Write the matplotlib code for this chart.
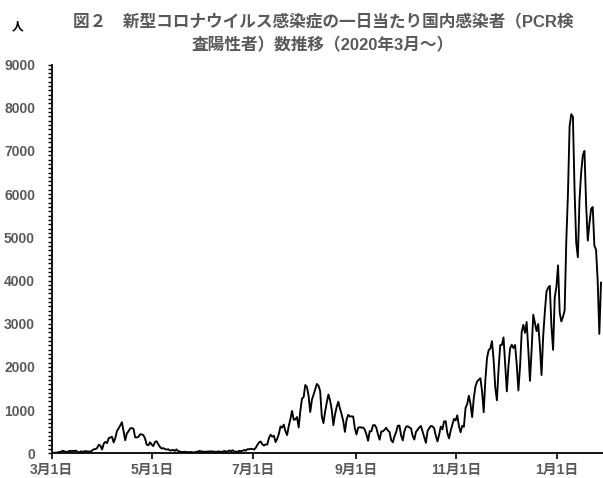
import numpy as np
import pandas as pd
import matplotlib
matplotlib.use("Agg")
import matplotlib.pyplot as plt
from matplotlib.ticker import MultipleLocator

plt.rcParams['font.family'] = ['Liberation Sans', 'Noto Sans CJK JP', 'DejaVu Sans']

# ---- data (daily new cases, by report date, starting 2020-03-01) ----
start_date = "2020-03-01"
mar = [9, 14, 14, 17, 33, 33, 58, 47, 34, 26, 54, 52, 56, 51, 62, 38, 15, 44, 37, 39,
       53, 42, 43, 38, 65, 93, 96, 123, 200, 173, 87]
apr = [225, 266, 235, 351, 366, 383, 250, 352, 515, 576, 644, 720, 507, 302, 460, 510,
       574, 585, 568, 372, 366, 381, 439, 437, 420, 344, 201, 185, 255, 202]
may = [167, 263, 280, 210, 150, 110, 120, 100, 85, 95, 65, 70, 80, 55, 90, 50, 43, 29,
       31, 35, 31, 26, 28, 30, 21, 21, 36, 36, 57, 42, 40]
jun = [35, 35, 42, 40, 48, 39, 38, 34, 40, 41, 33, 37, 54, 41, 42, 68, 44, 72, 38, 42,
       32, 57, 50, 57, 77, 60, 96, 92, 105, 100]
jul = [86, 127, 194, 250, 274, 208, 178, 207, 202, 355, 430, 385, 408, 259, 334, 450,
       622, 594, 664, 510, 423, 631, 795, 981, 775, 786, 839, 598, 982, 1264, 1302]
aug = [1580, 1536, 1331, 955, 1237, 1356, 1485, 1605, 1565, 1441, 858, 699, 966, 1175,
       1360, 1227, 1011, 652, 900, 1071, 1193, 1034, 905, 742, 496, 778, 890, 851, 856,
       851, 582]
sep = [436, 591, 605, 594, 597, 549, 440, 291, 511, 509, 648, 654, 592, 441, 315, 505,
       507, 546, 592, 526, 494, 301, 255, 396, 491, 638, 641, 416, 298, 511]
octo = [613, 627, 600, 578, 403, 319, 494, 544, 598, 632, 506, 370, 243, 511, 582, 632,
        624, 580, 408, 275, 426, 618, 553, 738, 742, 466, 345, 522, 656, 796, 762]
nov = [878, 633, 487, 637, 612, 1046, 1139, 1332, 1145, 838, 1278, 1547, 1660, 1704,
       1737, 1438, 951, 1693, 2201, 2388, 2425, 2596, 2168, 1520, 1227, 1947, 2504, 2508,
       2684, 2068]
dec = [1434, 2030, 2430, 2512, 2437, 2508, 2055, 1455, 2010, 2811, 2973, 2789, 3041,
       2398, 1677, 2392, 3208, 3015, 2827, 2994, 2497, 1812, 2705, 3271, 3740, 3833, 3876,
       2947, 2395, 3606, 3852]
jan = [4350, 3256, 3052, 3158, 3310, 4915, 6004, 7570, 7850, 7790, 6095, 4876, 4538,
       5874, 6500, 6900, 7000, 5759, 4925, 5320, 5654, 5701, 4800, 4717, 3990, 2764, 3950]

cases = mar + apr + may + jun + jul + aug + sep + octo + nov + dec + jan

tick_dates = ["2020-03-01", "2020-05-01", "2020-07-01", "2020-09-01", "2020-11-01", "2021-01-01"]
tick_labels = ["3月1日", "5月1日", "7月1日", "9月1日", "11月1日", "1月1日"]
y_ticks = [0, 1000, 2000, 3000, 4000, 5000, 6000, 7000, 8000, 9000]

title = "図２　新型コロナウイルス感染症の一日当たり国内感染者（PCR検\n査陽性者）数推移（2020年3月～）"
unit = "人"

# ---- drawing ----
gray = '#595959'
fig = plt.figure(figsize=(6.03, 4.78), dpi=100)
ax = fig.add_axes([51.7 / 603, 24.7 / 478, 1 - 51.7 / 603, (453.3 - 64.5) / 478])

start = pd.Timestamp(start_date)
x = np.arange(len(cases)) + 0.5
ax.plot(x, cases, color='black', linewidth=1.35, solid_joinstyle='round')

ax.set_xlim(0, (603 - 51.7) / 1.652)
ax.set_ylim(0, 9000)

tick_pos = [(pd.Timestamp(d) - start).days for d in tick_dates]
ax.set_xticks(tick_pos)
ax.set_xticklabels(tick_labels)
ax.set_yticks(y_ticks)
ax.set_yticklabels([str(v) for v in y_ticks])
ax.yaxis.set_minor_locator(MultipleLocator(100))

for s in ['top', 'right']:
    ax.spines[s].set_visible(False)
for s in ['left', 'bottom']:
    ax.spines[s].set_color('black')
    ax.spines[s].set_linewidth(1.3)

ax.tick_params(axis='x', which='major', direction='out', length=4, width=1.2,
               colors='black', labelcolor=gray, labelsize=10, pad=3)
ax.tick_params(axis='y', which='major', direction='out', length=3, width=1.0,
               colors='black', labelcolor=gray, labelsize=10, pad=9)
ax.tick_params(axis='y', which='minor', direction='out', length=3, width=1.0, colors='black')
for lab in ax.get_xticklabels() + ax.get_yticklabels():
    lab.set_fontweight('bold')

fig.text(323 / 603, 1 - 34 / 478, title, ha='center', va='center', fontsize=12,
         fontweight='bold', color=gray, linespacing=1.5, multialignment='center')
fig.text(18 / 603, 1 - 27 / 478, unit, ha='center', va='center', fontsize=8.5,
         fontweight='bold', color='black')

fig.savefig('out.png', dpi=100)
